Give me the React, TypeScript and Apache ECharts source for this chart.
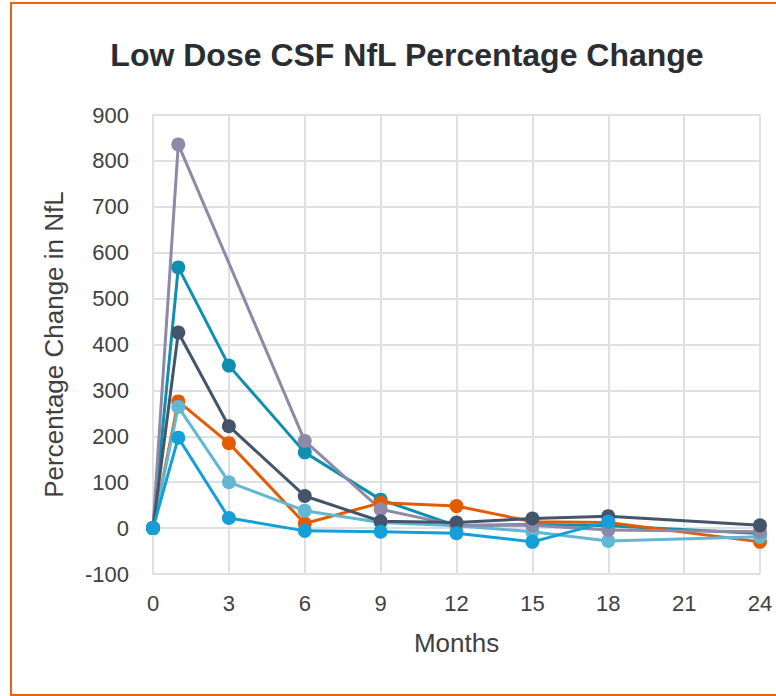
import React, { useEffect, useRef } from "react";
import * as echarts from "echarts";

// Visit months and percentage change in CSF NfL per participant (null = no sample)
const months = [0, 1, 3, 6, 9, 12, 15, 18, 24];
const tealValues = [0, 568, 354, 165, 62, 5, 8, 5, -12];
const orangeValues = [0, 276, 185, 10, 55, 48, 14, 12, -30];
const lightBlueValues = [0, 264, 100, 38, 12, 5, -8, -28, -19];
const greyValues = [0, 836, null, 190, 41, 6, 6, -4, -8];
const slateValues = [0, 426, 222, 70, 15, 12, 21, 26, 6];
const blueValues = [0, 197, 22, -6, -8, -11, -30, 14, null];

const xTicks = [0, 3, 6, 9, 12, 15, 18, 21, 24];
const yTicks = [-100, 0, 100, 200, 300, 400, 500, 600, 700, 800, 900];

const seriesDefs: { name: string; values: (number | null)[]; color: string }[] = [
  { name: "Participant 1", values: tealValues, color: "#0E8FB0" },
  { name: "Participant 2", values: orangeValues, color: "#E35C04" },
  { name: "Participant 3", values: lightBlueValues, color: "#62B8D2" },
  { name: "Participant 4", values: greyValues, color: "#8D89A6" },
  { name: "Participant 5", values: slateValues, color: "#44546A" },
  { name: "Participant 6", values: blueValues, color: "#159FD8" },
];

const toPairs = (values: (number | null)[]) =>
  months
    .map((m, i) => [m, values[i]] as [number, number | null])
    .filter((p) => p[1] !== null);

export default function App() {
  const ref = useRef<HTMLDivElement>(null);

  useEffect(() => {
    if (!ref.current) return;
    const chart = echarts.init(ref.current, undefined, { renderer: "svg" });
    const gridColor = "#DDE0E4";
    const textColor = "#404040";
    const font = "Liberation Sans, Arial, sans-serif";
    chart.setOption({
      animation: false,
      title: {
        text: "Low Dose CSF NfL Percentage Change",
        left: 402,
        textAlign: "center",
        top: 34,
        textStyle: {
          fontFamily: font,
          fontSize: 32,
          fontWeight: "bold",
          color: "#2A2E33",
        },
      },
      grid: { left: 153, right: 16, top: 115, bottom: 122 },
      xAxis: {
        type: "value",
        min: xTicks[0],
        max: xTicks[xTicks.length - 1],
        interval: 3,
        name: "Months",
        nameLocation: "middle",
        nameGap: 56,
        nameTextStyle: { fontFamily: font, fontSize: 26, color: textColor },
        axisLine: { show: true, lineStyle: { color: gridColor, width: 2 } },
        axisTick: { show: false },
        axisLabel: { fontFamily: font, fontSize: 22, color: textColor, margin: 18 },
        splitLine: { show: true, lineStyle: { color: gridColor, width: 2 } },
      },
      yAxis: {
        type: "value",
        min: yTicks[0],
        max: yTicks[yTicks.length - 1],
        interval: 100,
        name: "Percentage Change in NfL",
        nameLocation: "middle",
        nameGap: 86,
        nameTextStyle: { fontFamily: font, fontSize: 26, color: textColor },
        axisLine: { show: true, lineStyle: { color: gridColor, width: 2 } },
        axisTick: { show: false },
        axisLabel: { fontFamily: font, fontSize: 22, color: textColor, margin: 24 },
        splitLine: { show: true, lineStyle: { color: gridColor, width: 2 } },
      },
      series: seriesDefs.map((s) => ({
        name: s.name,
        type: "line",
        data: toPairs(s.values),
        symbol: "circle",
        symbolSize: 14,
        showSymbol: true,
        lineStyle: { color: s.color, width: 3 },
        itemStyle: { color: s.color },
      })),
    });
    return () => chart.dispose();
  }, []);

  return (
    <div
      style={{
        position: "fixed",
        left: 0,
        top: 0,
        width: 776,
        height: 696,
        overflow: "hidden",
        background: "#fff",
      }}
    >
      <div
        style={{
          position: "absolute",
          left: 10,
          top: 2,
          width: 800,
          height: 690,
          border: "2px solid #E8650E",
        }}
      />
      <div
        ref={ref}
        style={{ position: "absolute", left: 0, top: 0, width: 776, height: 696 }}
      />
    </div>
  );
}
